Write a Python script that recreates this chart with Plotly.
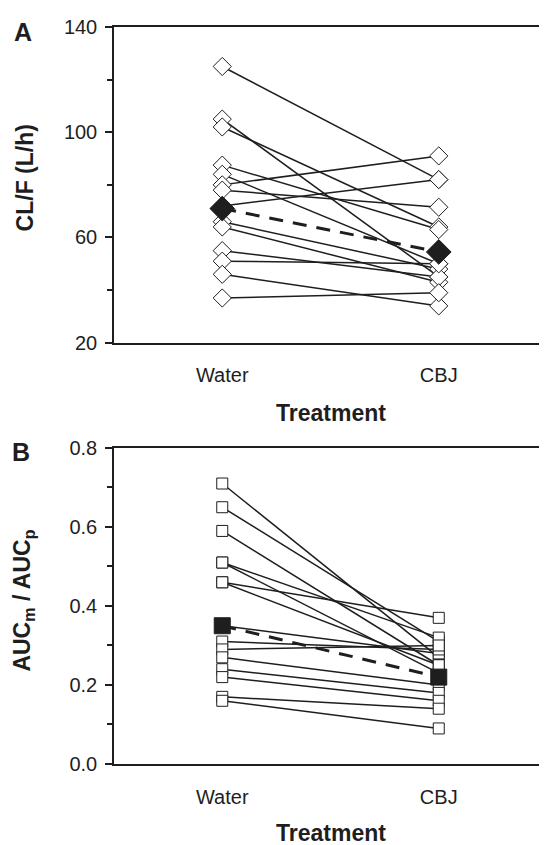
import plotly.graph_objects as go

# treatment groups
treatments = ["Water", "CBJ"]

# panel A: CL/F (L/h) per subject
water_cl = [125, 105, 102, 87.5, 84, 80, 78, 72, 66, 64, 55, 51, 46, 37]
cbj_cl = [82, 45, 64, 63, 50, 91, 71.5, 82, 48, 43, 45, 50, 34, 39]
mean_cl = [71, 54.5]

# panel B: AUCm / AUCp per subject
water_auc = [0.71, 0.65, 0.59, 0.51, 0.51, 0.46, 0.46, 0.35, 0.31, 0.29, 0.27, 0.24, 0.22, 0.17, 0.16]
cbj_auc = [0.27, 0.31, 0.25, 0.32, 0.23, 0.37, 0.25, 0.28, 0.29, 0.30, 0.20, 0.18, 0.16, 0.14, 0.09]
mean_auc = [0.35, 0.22]

ink = "#1e1e1e"
font = "Liberation Sans, Arial, sans-serif"

fig = go.Figure()


def add_panel(water, cbj, mean, symbol, size, mean_size, xa, ya):
    # one line per subject
    for w, c in zip(water, cbj):
        fig.add_trace(go.Scatter(x=treatments, y=[w, c], mode="lines",
                                 line=dict(color=ink, width=1.5),
                                 xaxis=xa, yaxis=ya, showlegend=False))
    # mean line
    fig.add_trace(go.Scatter(x=treatments, y=mean, mode="lines",
                             line=dict(color=ink, width=3, dash="14px,10px"),
                             xaxis=xa, yaxis=ya, showlegend=False))
    # subject markers
    fig.add_trace(go.Scatter(x=["Water"] * len(water) + ["CBJ"] * len(cbj),
                             y=water + cbj, mode="markers",
                             marker=dict(symbol=symbol, size=size, color="white",
                                         line=dict(color=ink, width=1)),
                             xaxis=xa, yaxis=ya, showlegend=False))
    # mean markers
    fig.add_trace(go.Scatter(x=treatments, y=mean, mode="markers",
                             marker=dict(symbol=symbol, size=mean_size, color=ink,
                                         line=dict(color=ink, width=1)),
                             xaxis=xa, yaxis=ya, showlegend=False))


add_panel(water_cl, cbj_cl, mean_cl, "diamond", 14, 19, "x", "y")
add_panel(water_auc, cbj_auc, mean_auc, "square", 11, 16, "x2", "y2")

xcommon = dict(type="category", range=[-0.5, 1.5], showline=True, mirror=True,
               linecolor=ink, linewidth=1.5, ticks="", showgrid=False, zeroline=False,
               tickfont=dict(family=font, size=20, color=ink), ticklabelstandoff=14)
ycommon = dict(showline=True, linecolor=ink, linewidth=1.5, ticks="outside", ticklen=7,
               tickwidth=1.5, tickcolor=ink, showgrid=False, zeroline=False,
               tickfont=dict(family=font, size=20, color=ink), ticklabelstandoff=4)

fig.update_layout(
    width=547, height=845,
    margin=dict(l=106, r=8, t=16, b=89),
    paper_bgcolor="white", plot_bgcolor="white",
    xaxis=dict(xcommon, anchor="y"),
    yaxis=dict(ycommon, domain=[0.5716, 1.0], range=[20, 140], tickvals=[20, 60, 100, 140],
               minor=dict(tickvals=[40, 80, 120], ticklen=5, tickwidth=1.5, tickcolor=ink,
                          ticks="outside")),
    xaxis2=dict(xcommon, anchor="y2"),
    yaxis2=dict(ycommon, domain=[0.0, 0.4288], range=[0, 0.8],
                tickvals=[0, 0.2, 0.4, 0.6, 0.8], tickformat=".1f",
                minor=dict(tickvals=[0.1, 0.3, 0.5, 0.7], ticklen=5, tickwidth=1.5,
                           tickcolor=ink, ticks="outside")),
    showlegend=False,
)

labels = [
    ("<b>A</b>", -0.21, 0.993, 0, 25),
    ("<b>B</b>", -0.215, 0.423, 0, 25),
    ("<b>CL/F (L/h)</b>", -0.2055, 0.7946, -90, 23),
    ("<b>AUC<sub>m</sub> / AUC<sub>p</sub></b>", -0.208, 0.2216, -90, 23),
    ("<b>Treatment</b>", 0.5, 0.4757, 0, 23),
    ("<b>Treatment</b>", 0.5, -0.0932, 0, 23),
]
for text, x, y, angle, size in labels:
    fig.add_annotation(text=text, x=x, y=y, xref="paper", yref="paper",
                       xanchor="center", yanchor="middle", textangle=angle,
                       showarrow=False, font=dict(family=font, size=size, color=ink))

fig.write_html("out.html")
